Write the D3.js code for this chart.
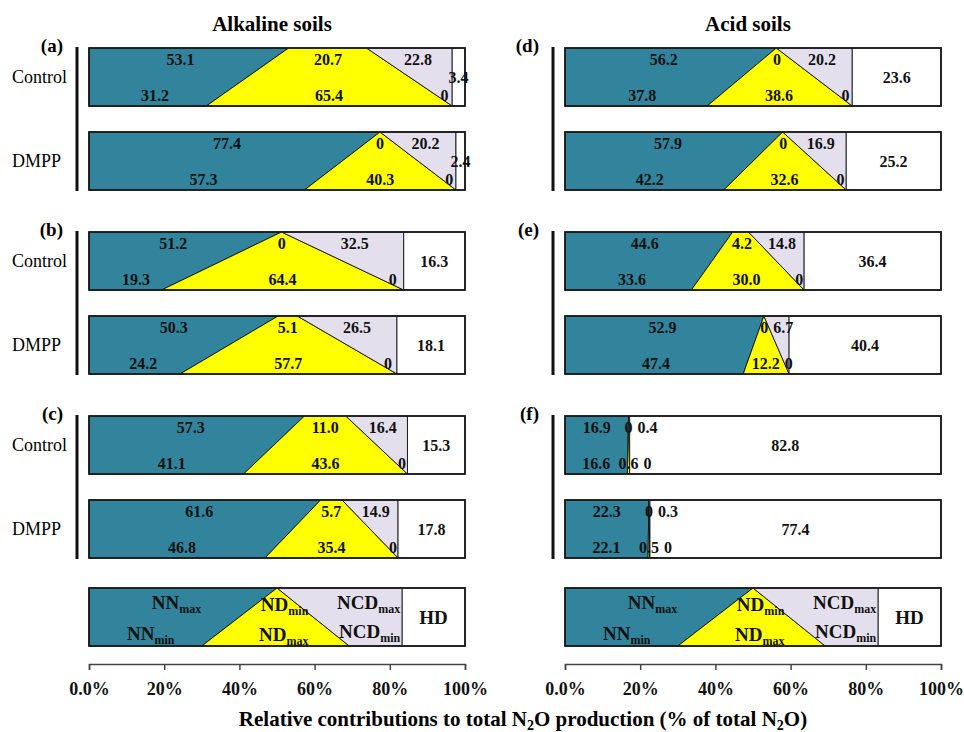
<!DOCTYPE html>
<html>
<head>
<meta charset="utf-8">
<script src="https://cdn.jsdelivr.net/npm/d3@7"></script>
<style>
body{margin:0;background:#fff}
text{font-family:"Liberation Serif","Times New Roman",serif}
</style>
</head>
<body>
<div id="chart"></div>
<script>
// bars in order: a-Control, a-DMPP, b-Control, b-DMPP, c-..., d-..., e-..., f-...
var panels = ["(a)","(b)","(c)","(d)","(e)","(f)"]
var treatments = ["Control","DMPP"]
var soils = ["Alkaline soils","Acid soils"]

// top edge of each bar
var nnMax  = [53.1,77.4, 51.2,50.3, 57.3,61.6, 56.2,57.9, 44.6,52.9, 16.9,22.3]
var ndMin  = [20.7,0,    0,5.1,     11.0,5.7,  0,0,       4.2,0,     0,0]
var ncdMax = [22.8,20.2, 32.5,26.5, 16.4,14.9, 20.2,16.9, 14.8,6.7,  0.4,0.3]
// bottom edge of each bar
var nnMin  = [31.2,57.3, 19.3,24.2, 41.1,46.8, 37.8,42.2, 33.6,47.4, 16.6,22.1]
var ndMax  = [65.4,40.3, 64.4,57.7, 43.6,35.4, 38.6,32.6, 30.0,12.2, 0.6,0.5]
var ncdMin = [0,0, 0,0, 0,0, 0,0, 0,0, 0,0]
var hd     = [3.4,2.4, 16.3,18.1, 15.3,17.8, 23.6,25.2, 36.4,40.4, 82.8,77.4]

// schematic key bar
var keyTop = [50,0,33.3,16.7]
var keyBottom = [30,39.2,14.1,16.7]

var xTicks = [0,20,40,60,80,100]

var width = 964, height = 732
var barH = 58
var panelX = [89, 565]
var panelW = 376
var groupTop = [48,232,416]
var rowGap = 84
var keyTopY = 588
var axisY = 664
var colors = ["#31849B","#FFFF00","#E4DFEC","#FFFFFF"]

var svg = d3.select("#chart").append("svg")
	.attr("width",width).attr("height",height)

function fmt(v){
	if(v==0){return "0"}
	return v.toFixed(1)
}
function lerp(a,b,t){return a+(b-a)*t}

// returns [[topX0,topX1],[botX0,botX1]] for the four pieces
function pieces(top,bot,hdv){
	var out = []
	var t0 = 0, b0 = 0
	for(var k=0;k<3;k++){
		var t1 = t0+top[k], b1 = b0+bot[k]
		if(k==2){t1 = 100-hdv; b1 = 100-hdv}
		out.push([[t0,t1],[b0,b1]])
		t0 = t1; b0 = b1
	}
	out.push([[100-hdv,100],[100-hdv,100]])
	return out
}

function drawBar(g,x,y0,segs){
	segs.forEach(function(s,k){
		var pts = [[x(s[0][0]),y0],[x(s[0][1]),y0],[x(s[1][1]),y0+barH],[x(s[1][0]),y0+barH]]
		g.append("path")
			.attr("d","M"+pts.join("L")+"Z")
			.attr("fill",colors[k])
			.attr("stroke","#111")
			.attr("stroke-width",0.9)
			.attr("stroke-linejoin","round")
	})
	g.append("rect")
		.attr("x",x(0)).attr("y",y0)
		.attr("width",x(100)-x(0)).attr("height",barH)
		.attr("fill","none").attr("stroke","#1a1a1a").attr("stroke-width",1.8)
}

// put a row of labels and push them apart if they overlap
function labelRow(g,x,y,segs,vals,t){
	var nodes = []
	vals.forEach(function(v,k){
		var l = lerp(segs[k][0][0],segs[k][1][0],t)
		var r = lerp(segs[k][0][1],segs[k][1][1],t)
		var cx = x((l+r)/2)
		var txt = g.append("text").text(fmt(v))
			.attr("x",cx).attr("y",y).attr("dy","0.35em")
			.attr("text-anchor","middle")
			.attr("font-size",16).attr("font-weight","bold").attr("fill","#111")
		nodes.push({el:txt,cx:cx,w:txt.node().getComputedTextLength()})
	})
	for(var i=1;i<nodes.length;i++){
		var prevRight = nodes[i-1].cx+nodes[i-1].w/2
		var left = nodes[i].cx-nodes[i].w/2
		if(left<prevRight+4){
			nodes[i].cx = prevRight+5+nodes[i].w/2
			nodes[i].el.attr("x",nodes[i].cx)
		}
	}
}

soils.forEach(function(soil,p){
	var x = d3.scaleLinear().domain([0,100]).range([panelX[p],panelX[p]+panelW])

	svg.append("text").text(soil)
		.attr("x",x(50)-5).attr("y",31)
		.attr("text-anchor","middle").attr("font-size",21).attr("font-weight","bold")

	for(var gi=0;gi<3;gi++){
		var pi = p*3+gi
		var g = svg.append("g")
		var top0 = groupTop[gi]

		g.append("text").text(panels[pi])
			.attr("x",x(0)-26).attr("y",top0+4)
			.attr("text-anchor","end").attr("font-size",19).attr("font-weight","bold")

		g.append("line")
			.attr("x1",x(0)-12).attr("x2",x(0)-12)
			.attr("y1",top0-1).attr("y2",top0+rowGap+barH+1)
			.attr("stroke","#111").attr("stroke-width",3)

		treatments.forEach(function(tr,ti){
			var i = pi*2+ti
			var y0 = top0+ti*rowGap
			var segs = pieces([nnMax[i],ndMin[i],ncdMax[i]],[nnMin[i],ndMax[i],ncdMin[i]],hd[i])
			drawBar(g,x,y0,segs)
			labelRow(g,x,y0+barH*0.2,segs,[nnMax[i],ndMin[i],ncdMax[i]],0.2)
			labelRow(g,x,y0+barH*0.82,segs,[nnMin[i],ndMax[i],ncdMin[i]],0.82)
			g.append("text").text(fmt(hd[i]))
				.attr("x",x(100-hd[i]/2)).attr("y",y0+barH/2).attr("dy","0.35em")
				.attr("text-anchor","middle")
				.attr("font-size",16).attr("font-weight","bold").attr("fill","#111")
			if(p==0){
				g.append("text").text(tr)
					.attr("x",12).attr("y",y0+barH/2).attr("dy","0.35em")
					.attr("font-size",18)
			}
		})
	}

	// key bar
	var kg = svg.append("g")
	var ksegs = pieces(keyTop,keyBottom,keyTop[3])
	drawBar(kg,x,keyTopY,ksegs)
	function keyLabel(name,sub,k,t,anchor,shift){
		var l = lerp(ksegs[k][0][0],ksegs[k][1][0],t)
		var r = lerp(ksegs[k][0][1],ksegs[k][1][1],t)
		var tx = anchor=="end" ? x(r)-2 : x((l+r)/2)+shift
		var txt = kg.append("text")
			.attr("x",tx).attr("y",keyTopY+barH*t).attr("dy","0.35em")
			.attr("text-anchor",anchor).attr("font-size",19).attr("font-weight","bold").attr("fill","#111")
		txt.append("tspan").text(name)
		if(sub){
			txt.append("tspan").text(sub).attr("font-size",12).attr("dy","0.35em")
		}
	}
	keyLabel("NN","max",0,0.25,"middle",3)
	keyLabel("NN","min",0,0.78,"middle",-3)
	keyLabel("ND","min",1,0.28,"middle",8)
	keyLabel("ND","max",1,0.8,"middle",8)
	keyLabel("NCD","max",2,0.25,"end",0)
	keyLabel("NCD","min",2,0.75,"end",0)
	keyLabel("HD",null,3,0.5,"middle",0)

	var xAxis = d3.axisBottom(x).tickValues(xTicks)
		.tickSize(6).tickPadding(12)
		.tickFormat(function(d){return d==0 ? "0.0%" : d+"%"})
	var ax = svg.append("g")
		.attr("transform","translate(0,"+axisY+")")
		.call(xAxis)
	ax.select(".domain").attr("stroke","#444").attr("stroke-width",1.5)
	ax.selectAll(".tick line").attr("stroke","#444").attr("stroke-width",1.5)
	ax.selectAll(".tick text")
		.attr("font-family","Liberation Serif, Times New Roman, serif")
		.attr("font-size",18).attr("font-weight","bold").attr("fill","#111")
})

var title = svg.append("text")
	.attr("x",523).attr("y",726)
	.attr("text-anchor","middle").attr("font-size",21).attr("font-weight","bold")
title.append("tspan").text("Relative contributions to total N")
title.append("tspan").text("2").attr("font-size",14).attr("dy",4)
title.append("tspan").text("O production (% of total N").attr("dy",-4)
title.append("tspan").text("2").attr("font-size",14).attr("dy",4)
title.append("tspan").text("O)").attr("dy",-4)
</script>
</body>
</html>
